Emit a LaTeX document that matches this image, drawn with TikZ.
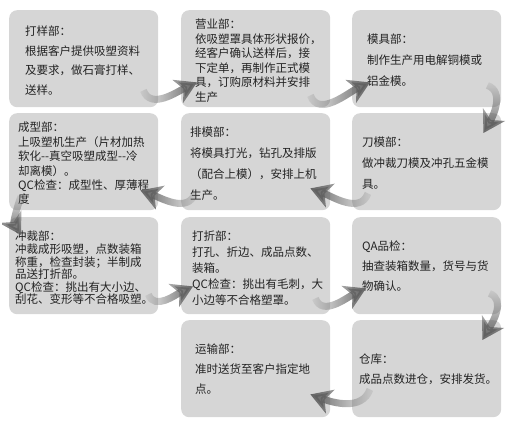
\documentclass[tikz,border=0pt]{standalone}
\usepackage{fontspec}
\setmainfont{Noto Sans CJK SC}
\usetikzlibrary{arrows.meta,calc,fadings}
\definecolor{boxgray}{RGB}{214,214,214}
\definecolor{arrowgray}{RGB}{95,95,95}
\definecolor{txtgray}{RGB}{35,35,35}

\tikzfading[name=tailfade, left color=transparent!90, right color=transparent!0]

\tikzset{
  box/.style={fill=boxgray, rounded corners=8pt, minimum width=149pt, minimum height=97pt, anchor=north west, inner sep=0pt},
  txt/.style={anchor=north west, inner sep=0pt, align=left, text=txtgray, font=\fontsize{11.5}{#1}\selectfont},
  flow/.style={line width=7pt, draw=arrowgray, -{Stealth[length=21pt,width=25pt,inset=6pt]}, path fading=tailfade, fading angle=#1},
  flow/.default=0
}

\begin{document}
\begin{tikzpicture}[x=1pt,y=1pt]
\useasboundingbox (0,0) rectangle (515,431);

% 第一行
\node[box] (dayang) at (9,421) {};
\node[box] (yingye) at (181,421) {};
\node[box] (muju) at (352,421) {};
\node[txt=19.5] (dayangtxt) at ($(dayang.north west)+(16,-16)$) {打样部：\\根据客户提供吸塑资料\\及要求，做石膏打样、\\送样。};
\node[txt=14.5] (yingyetxt) at ($(yingye.north west)+(14,-9)$) {营业部：\\依吸塑罩具体形状报价，\\经客户确认送样后，接\\下定单，再制作正式模\\具，订购原材料并安排\\生产};
\node[txt=21] (mujutxt) at ($(muju.north west)+(15,-24)$) {模具部：\\制作生产用电解铜模或\\铝金模。};

% 第二行
\node[box] (chengxing) at (9,318) {};
\node[box] (paimo) at (181,318) {};
\node[box] (daomo) at (352,318) {};
\node[txt=14.4] (chengxingtxt) at ($(chengxing.north west)+(9,-9)$) {成型部：\\上吸塑机生产（片材加热\\软化-\kern0pt-真空吸塑成型-\kern0pt-冷\\却离模）。\\QC检查：成型性、厚薄程\\度};
\node[txt=20.7] (paimotxt) at ($(paimo.north west)+(9,-14)$) {排模部：\\将模具打光，钻孔及排版\\（配合上模），安排上机\\生产。};
\node[txt=21] (daomotxt) at ($(daomo.north west)+(10,-24)$) {刀模部：\\做冲裁刀模及冲孔五金模\\具。};

% 第三行
\node[box] (chongcai) at (9,214) {};
\node[box] (dazhe) at (181,214) {};
\node[box] (qa) at (352,214) {};
\node[txt=12.6] (chongcaitxt) at ($(chongcai.north west)+(6,-14)$) {冲裁部：\\冲裁成形吸塑，点数装箱\\称重，检查封装；半制成\\品送打折部。\\QC检查：挑出有大小边、\\刮花、变形等不合格吸塑。};
\node[txt=16] (dazhetxt) at ($(dazhe.north west)+(11,-14)$) {打折部：\\打孔、折边、成品点数、\\装箱。\\QC检查：挑出有毛刺，大\\小边等不合格塑罩。};
\node[txt=20] (qatxt) at ($(qa.north west)+(10,-24)$) {QA品检：\\抽查装箱数量，货号与货\\物确认。};

% 第四行
\node[box] (yunshu) at (181,111) {};
\node[box] (cangku) at (352,111) {};
\node[txt=20] (yunshutxt) at ($(yunshu.north west)+(14,-24)$) {运输部：\\准时送货至客户指定地\\点。};
\node[txt=20] (cangkutxt) at ($(cangku.north west)+(7,-34)$) {仓库：\\成品点数进仓，安排发货。};

% 流程箭头（向右）
\draw[flow] ($(dayang.south east)+(-15,17)$) to[out=-70,in=205] ($(yingye.south west)+(16,25)$);
\draw[flow] ($(yingye.south east)+(-20,12)$) to[out=-70,in=205] ($(muju.south west)+(18,25)$);
\draw[flow] ($(chongcai.south east)+(-10,20)$) to[out=-70,in=205] ($(dazhe.south west)+(12,28)$);
\draw[flow] ($(dazhe.south east)+(-15,16)$) to[out=-70,in=205] ($(qa.south west)+(14,26)$);

% 流程箭头（向下）
\draw[flow=-90] ($(muju.south east)+(-14,22)$) to[out=-20,in=60] ($(daomo.north east)+(-18,-20)$);
\draw[flow=-90] ($(qa.south east)+(-12,21)$) to[out=-20,in=60] ($(cangku.north east)+(-19,-20)$);
\draw[flow=-90] ($(chengxing.south west)+(12,14)$) to[out=-110,in=120] ($(chongcai.north west)+(12,-18)$);

% 流程箭头（向左）
\draw[flow=180] ($(daomo.south west)+(16,17)$) to[out=-110,in=-20] ($(paimo.south east)+(-20,22)$);
\draw[flow=180] ($(paimo.south west)+(14,17)$) to[out=-110,in=-20] ($(chengxing.south east)+(-18,20)$);
\draw[flow=180] ($(cangku.south west)+(18,28)$) to[out=-110,in=-20] ($(yunshu.south east)+(-20,23)$);

\end{tikzpicture}
\end{document}
